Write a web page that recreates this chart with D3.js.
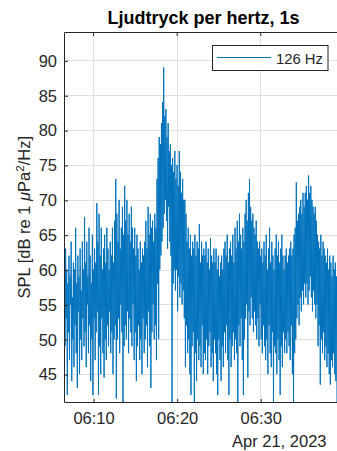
<!DOCTYPE html>
<html>
<head>
<meta charset="utf-8">
<script src="https://cdn.jsdelivr.net/npm/d3@7"></script>
<style>
  html, body { margin: 0; padding: 0; background: #fff; }
  svg { display: block; font-family: "Liberation Sans", Arial, Helvetica, sans-serif; }
</style>
</head>
<body>
<svg id="chart" width="337" height="451"></svg>
<script>
// ---- data -------------------------------------------------------------
const chartTitle = "Ljudtryck per hertz, 1s";
const seriesName = "126 Hz";
const startTime = "2023-04-21T06:06:35";   // first sample (local time)
const stepSeconds = 4;                      // spacing of the plotted samples
const yTickValues = [45, 50, 55, 60, 65, 70, 75, 80, 85, 90];
const xTickLabels = ["06:10", "06:20", "06:30"];
const dateLabel = "Apr 21, 2023";

// SPL [dB re 1 µPa²/Hz] in the 126 Hz band
const spl = [
  57, 49, 63, 53, 60, 42, 58, 51, 62, 47, 59, 55, 64, 44, 56, 50, 61, 46,
  60, 52, 66, 48, 58, 43, 62, 54, 59, 45, 63, 50, 57, 47, 64, 53, 60, 49,
  67.5, 51, 61, 46, 64, 55, 59, 48, 66, 52, 62, 44, 58, 50, 65, 42, 60, 53,
  63, 47, 61, 51, 69.5, 54, 64, 42, 68, 49, 62, 45, 66, 53, 60, 48, 63, 44.5,
  65, 50, 61, 47, 66, 52, 63, 49, 60, 54, 64, 48, 62, 51, 66, 45, 61, 50,
  67, 52, 73, 41.5, 68, 50, 64, 53, 70, 48, 63, 55, 66, 51, 69, 41, 65, 49,
  72, 52, 67, 50, 70, 54, 65, 48, 68, 53, 64, 51, 69, 49, 66, 55, 63, 47,
  66, 51, 62, 44, 65, 49, 63, 52, 60, 47, 64, 50, 61, 45, 63, 53, 62, 48,
  64, 50, 67, 52, 63, 46, 69, 54, 65, 49, 68, 43, 66, 51, 67, 55, 64, 50,
  68, 52, 66, 47, 73, 58, 76, 50, 79, 60, 78, 62, 81, 64, 84, 66, 89, 68,
  82, 70, 83, 67, 79, 63, 81, 69, 77, 64, 78, 62, 75, 41, 76, 58, 74, 60,
  77, 57, 73, 60, 75, 54, 72, 59, 77, 56, 74, 58, 71, 55, 73, 57, 70, 53,
  70, 46, 68, 52, 64, 48, 66, 50, 63, 45, 65, 42, 62, 49, 64, 51, 63, 41,
  65, 48, 62, 44, 64, 50, 63, 47, 66.5, 49, 61, 46, 64, 52, 62, 45, 63, 48,
  62, 47, 64, 50, 61, 45, 63, 49, 60, 51, 64.5, 46, 62, 48, 61, 44, 63, 50,
  61, 48, 63, 45, 60, 42, 62, 50, 59, 47, 61, 44, 62, 49, 60, 46, 63, 51,
  64, 48, 62, 52, 65, 47, 61, 42, 63, 50, 64, 46, 62, 49, 65, 51, 61, 47,
  66, 50, 63, 48, 67, 41, 64, 52, 68, 49, 65, 53, 63, 47, 66, 42, 64, 50,
  68, 53, 70, 55, 67, 44.5, 71, 54, 73, 52, 69, 56, 67, 53, 68, 51, 66, 54,
  65, 52, 67, 50, 64, 53, 63, 49, 64, 55, 62, 50, 63, 48, 61, 52, 64, 49,
  62, 47, 65, 50, 60, 45, 63, 52, 66, 48, 61, 46, 64, 51, 62, 41, 60, 49,
  63, 48, 65, 45, 62, 50, 64, 47, 61, 42, 63, 49, 65, 46, 62, 51, 60, 48,
  62, 50, 63, 48, 61, 51, 62, 49, 63, 47, 64, 52, 62, 45, 63, 41, 65, 48,
  66, 50, 72.5, 53, 67, 55, 68, 52, 69, 56, 70, 54, 68, 57, 71, 55, 69, 58,
  71, 56, 72, 58, 70, 55, 73.5, 57, 71, 59, 72, 56, 70, 54, 69, 57, 68, 55,
  69, 53, 67, 55, 65, 49, 64, 52, 63, 43.5, 65, 50, 62, 48, 64, 51, 63, 47,
  62, 49, 61, 46, 63, 48, 60, 45, 62, 43.5, 61, 47, 59, 46, 62, 48, 60, 45,
  61, 44, 59, 41
];

// ---- layout -----------------------------------------------------------
const W = 337, H = 451;
const plot = { left: 64.5, right: 337, top: 32.5, bottom: 402 };
const ink = "#262626";
const gridColor = "#dfdfdf";
const lineColor = "#0072bd";
const fontSize = 16.5;

const svg = d3.select("#chart");

const t0 = new Date(startTime);
const data = spl.map((v, i) => ({ t: d3.timeSecond.offset(t0, i * stepSeconds), v }));

const x = d3.scaleTime()
  .domain(d3.extent(data, d => d.t))
  .range([plot.left, plot.right]);

const y = d3.scaleLinear()
  .domain([41, 94])
  .range([plot.bottom, plot.top]);

const parseHM = d3.timeParse("%Y-%m-%d %H:%M");
const dayStr = d3.timeFormat("%Y-%m-%d")(t0);
const xTickValues = xTickLabels.map(s => parseHM(dayStr + " " + s));

// grid
const grid = svg.append("g");
grid.selectAll(".gx").data(xTickValues).join("line")
  .attr("x1", d => Math.round(x(d)) + 0.5).attr("x2", d => Math.round(x(d)) + 0.5)
  .attr("y1", plot.top).attr("y2", plot.bottom)
  .attr("stroke", gridColor).attr("stroke-width", 1);
grid.selectAll(".gy").data(yTickValues).join("line")
  .attr("x1", plot.left).attr("x2", W + 10)
  .attr("y1", d => Math.round(y(d)) + 0.5).attr("y2", d => Math.round(y(d)) + 0.5)
  .attr("stroke", gridColor).attr("stroke-width", 1);

// series
svg.append("clipPath").attr("id", "plotclip")
  .append("rect")
  .attr("x", plot.left).attr("y", plot.top)
  .attr("width", W + 10 - plot.left).attr("height", plot.bottom - plot.top);

const line = d3.line().x(d => x(d.t)).y(d => y(d.v));
svg.append("path")
  .datum(data)
  .attr("clip-path", "url(#plotclip)")
  .attr("fill", "none")
  .attr("stroke", lineColor)
  .attr("stroke-width", 1)
  .attr("stroke-linejoin", "miter")
  .attr("d", line);

// axes box (right side runs off the canvas)
const box = svg.append("g").attr("stroke", ink).attr("stroke-width", 1).attr("fill", "none");
box.append("line").attr("x1", plot.left).attr("x2", W + 10).attr("y1", plot.top).attr("y2", plot.top);
box.append("line").attr("x1", plot.left).attr("x2", W + 10).attr("y1", plot.bottom + 0.5).attr("y2", plot.bottom + 0.5);
box.append("line").attr("x1", plot.left).attr("x2", plot.left).attr("y1", plot.top).attr("y2", plot.bottom + 0.5);

// y axis
const yAxis = d3.axisLeft(y).tickValues(yTickValues).tickSize(-3.5).tickPadding(7.5);
const gy = svg.append("g").attr("transform", `translate(${plot.left},0.5)`).call(yAxis);
gy.select(".domain").remove();
gy.selectAll(".tick line").attr("stroke", ink);
gy.selectAll(".tick text").attr("fill", ink).attr("font-size", fontSize)
  .attr("font-family", "Liberation Sans, Arial, sans-serif");

// x axis
const xAxis = d3.axisBottom(x).tickValues(xTickValues)
  .tickFormat(d3.timeFormat("%H:%M")).tickSize(-3.5).tickPadding(10);
const gx = svg.append("g").attr("transform", `translate(0.5,${plot.bottom + 0.5})`).call(xAxis);
gx.select(".domain").remove();
gx.selectAll(".tick line").attr("stroke", ink);
gx.selectAll(".tick text").attr("fill", ink).attr("font-size", fontSize)
  .attr("font-family", "Liberation Sans, Arial, sans-serif");

// mirrored ticks on the top edge
svg.append("g").selectAll("line").data(xTickValues).join("line")
  .attr("x1", d => x(d) + 0.5).attr("x2", d => x(d) + 0.5)
  .attr("y1", plot.top).attr("y2", plot.top + 3.5)
  .attr("stroke", ink);

// date under the time axis
svg.append("text")
  .attr("x", 326.5).attr("y", 447)
  .attr("text-anchor", "end")
  .attr("fill", ink).attr("font-size", fontSize)
  .text(dateLabel);

// y label
const yl = svg.append("text")
  .attr("transform", `translate(30,${(plot.top + plot.bottom) / 2}) rotate(-90)`)
  .attr("text-anchor", "middle")
  .attr("fill", ink).attr("font-size", fontSize);
yl.append("tspan").text("SPL [dB re 1 ");
yl.append("tspan").attr("font-style", "italic").text("\u03bc");
yl.append("tspan").text("Pa");
yl.append("tspan").attr("font-size", fontSize * 0.7).attr("dy", -6).text("2");
yl.append("tspan").attr("dy", 6).text("/Hz]");

// title
svg.append("text")
  .attr("x", 203.5).attr("y", 24)
  .attr("text-anchor", "middle")
  .attr("fill", "#000").attr("font-size", 18)
  .attr("font-weight", "bold")
  .text(chartTitle);

// legend
const lg = svg.append("g");
lg.append("rect")
  .attr("x", 212.5).attr("y", 45.5).attr("width", 115.5).attr("height", 25)
  .attr("fill", "#fff").attr("stroke", ink).attr("stroke-width", 1);
lg.append("line")
  .attr("x1", 217).attr("x2", 271).attr("y1", 57.5).attr("y2", 57.5)
  .attr("stroke", lineColor).attr("stroke-width", 1);
lg.append("text")
  .attr("x", 276).attr("y", 63.5)
  .attr("fill", ink).attr("font-size", 14.8)
  .text(seriesName);
</script>
</body>
</html>
